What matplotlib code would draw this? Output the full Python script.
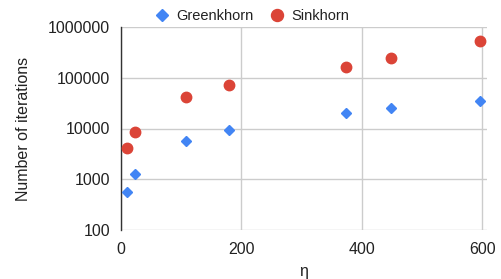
import matplotlib
matplotlib.use("Agg")
import matplotlib.pyplot as plt
from matplotlib.ticker import FixedLocator, FixedFormatter, NullLocator

eta = [10, 24, 108, 179, 373, 449, 597]
greenkhorn = [553, 1250, 5600, 9200, 20200, 25000, 34400]
sinkhorn = [4070, 8530, 42300, 71000, 165000, 248000, 537000]
series_names = ["Greenkhorn", "Sinkhorn"]
xticks = [0, 200, 400, 600]
yticks = [100, 1000, 10000, 100000, 1000000]
ytick_labels = ["100", "1000", "10000", "100000", "1000000"]

plt.rcParams['font.family'] = ['Liberation Sans', 'DejaVu Sans']

fig = plt.figure(figsize=(5.02, 2.79), dpi=100)
ax = fig.add_axes([121/502, 1 - 230/279, 366/502, 203/279])

blue = "#4285F4"
red = "#DB4437"
txt = "#222222"
grid = "#CCCCCC"

ax.plot(eta, greenkhorn, linestyle="none", marker="D", ms=5.2, color=blue,
        label=series_names[0], zorder=3)
ax.plot(eta, sinkhorn, linestyle="none", marker="o", ms=7.5, color=red,
        label=series_names[1], zorder=3)

ax.set_yscale("log")
ax.set_ylim(100, 1000000)
ax.set_xlim(0, 608)
ax.yaxis.set_major_locator(FixedLocator(yticks))
ax.yaxis.set_major_formatter(FixedFormatter(ytick_labels))
ax.yaxis.set_minor_locator(NullLocator())
ax.xaxis.set_major_locator(FixedLocator(xticks))

ax.grid(True, color=grid, linewidth=1)
ax.set_axisbelow(True)
for s in ["top", "right", "bottom"]:
    ax.spines[s].set_visible(False)
ax.spines["left"].set_color("#333333")
ax.spines["left"].set_linewidth(1)
ax.tick_params(axis="both", length=0, labelsize=11.5, colors=txt)
ax.tick_params(axis="y", pad=8)
ax.tick_params(axis="x", pad=9)

ax.set_xlabel("η", fontsize=11.5, color=txt, labelpad=5)
ax.set_ylabel("Number of iterations", fontsize=11.5, color=txt, labelpad=12)

leg = fig.legend(loc="center left", bbox_to_anchor=(153/502, 1 - 16/279), ncol=2, frameon=False,
                 fontsize=10.5, handletextpad=0.4, columnspacing=1.0, handlelength=1.2,
                 borderaxespad=0, borderpad=0, markerscale=1.15)
for t in leg.get_texts():
    t.set_color(txt)

fig.savefig("out.png", dpi=100)
